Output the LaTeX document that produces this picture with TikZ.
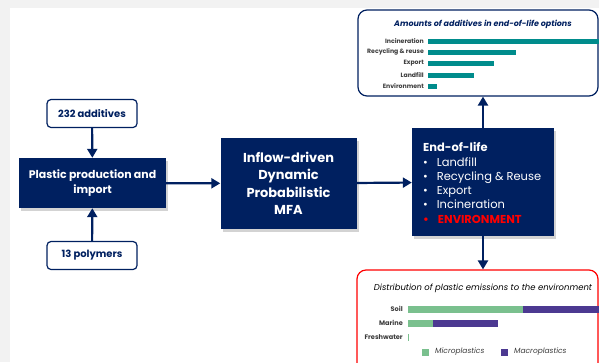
\documentclass[tikz,border=0pt]{standalone}
\usepackage{fontspec}
\setmainfont{Poppins}
\usetikzlibrary{arrows.meta,shadows}
\definecolor{navy}{RGB}{0,32,96}
\definecolor{barteal}{RGB}{0,140,140}
\definecolor{microgreen}{RGB}{122,192,142}
\definecolor{macropurple}{RGB}{76,57,145}
\definecolor{edgegray}{RGB}{242,242,242}
\definecolor{labelgray}{RGB}{60,60,60}
\definecolor{eolred}{RGB}{255,0,0}

\begin{document}
\begin{tikzpicture}[x=1bp, y=-1bp,
  darkbox/.style={fill=navy, text=white, font=\bfseries, align=center, inner sep=0,
    drop shadow={opacity=0.35, shadow xshift=2bp, shadow yshift=-3bp}},
  inbox/.style={draw=navy, line width=1.2bp, rounded corners=4bp, fill=white, text=navy,
    font=\bfseries\fontsize{10}{12}\selectfont, minimum width=90bp, minimum height=28bp, inner sep=0},
  flow/.style={navy, line width=2.2bp, -{Triangle[width=10bp,length=9bp]}},
  panel/.style={line width=1.2bp, rounded corners=9bp, fill=white, inner sep=0},
  barlabel/.style={anchor=east, font=\bfseries\fontsize{6.2}{7}\selectfont, text=labelgray, inner sep=1bp},
]
\clip (0,0) rectangle (599,362);
\fill[edgegray] (0,0) rectangle (599,8);
\fill[edgegray] (0,0) rectangle (10,362);

% left column
\node[inbox] (add) at (92,113.5) {232 additives};
\node[inbox] (poly) at (92,255.5) {13 polymers};
\node[darkbox, minimum width=147bp, minimum height=50bp, font=\bfseries\fontsize{11}{15}\selectfont] (prod) at (92.5,183) {Plastic production and\\import};

% model
\node[darkbox, minimum width=136bp, minimum height=91bp, font=\bfseries\fontsize{13}{17.5}\selectfont] (mfa) at (288.5,183.5) {Inflow-driven\\Dynamic\\Probabilistic\\MFA};

% end of life
\node[darkbox, minimum width=142bp, minimum height=108bp] (eol) at (483,182) {};
\node[anchor=west, align=left, inner sep=0, text=white, font=\fontsize{11.5}{14.3}\selectfont] (eoltxt) at (423,183)
  {{\bfseries End-of-life}\\
   \textbullet\hspace{9bp}Landfill\\
   \textbullet\hspace{9bp}Recycling \& Reuse\\
   \textbullet\hspace{9bp}Export\\
   \textbullet\hspace{9bp}Incineration\\
   {\color{eolred}\bfseries\textbullet\hspace{9bp}ENVIRONMENT}};

% panels
\node[panel, draw=navy, minimum width=240bp, minimum height=86bp] (amt) at (478,53) {};
\node[panel, draw=eolred, minimum width=241bp, minimum height=104bp] (dist) at (477.5,322) {};

\draw[flow] (add) -- (prod);
\draw[flow] (poly) -- (prod);
\draw[flow] (prod) -- (mfa);
\draw[flow] (mfa) -- (eol);
\draw[flow] (eol.north) -- (eol.north |- amt.south);
\draw[flow] (eol.south) -- (eol.south |- dist.north);

% additives chart
\node[text=navy, font=\bfseries\itshape\fontsize{8}{9}\selectfont] (t1) at (483,24) {Amounts of additives in end-of-life options};
\node[barlabel] (r1) at (425,41) {Incineration};
\node[barlabel] (r2) at (425,52) {Recycling \& reuse};
\node[barlabel] (r3) at (425,63.5) {Export};
\node[barlabel] (r4) at (425,75) {Landfill};
\node[barlabel] (r5) at (425,86) {Environment};
\fill[barteal] (428,38.5) rectangle (600,43.5);
\fill[barteal] (428,49.5) rectangle (516,54.5);
\fill[barteal] (428,61) rectangle (494,66);
\fill[barteal] (428,72.5) rectangle (474,77.5);
\fill[barteal] (428,83.5) rectangle (437,88.5);

% emissions chart
\node[text=black, font=\itshape\fontsize{8.5}{9}\selectfont] (t2) at (483,288) {Distribution of plastic emissions to the environment};
\node[barlabel, font=\bfseries\fontsize{6.6}{7}\selectfont] (e1) at (404,309) {Soil};
\node[barlabel, font=\bfseries\fontsize{6.6}{7}\selectfont] (e2) at (404,323) {Marine};
\node[barlabel, font=\bfseries\fontsize{6.6}{7}\selectfont] (e3) at (404,337) {Freshwater};
\fill[microgreen] (408,305.5) rectangle (523,312.5);
\fill[macropurple] (523,305.5) rectangle (600,312.5);
\fill[microgreen] (408,319.5) rectangle (433,326.5);
\fill[macropurple] (433,319.5) rectangle (498,326.5);
\fill[microgreen] (408,333.5) rectangle (409.2,340.5);
\fill[microgreen] (421.5,348.5) rectangle (428.5,355.5);
\fill[macropurple] (500.5,348.5) rectangle (507.5,355.5);
\node[anchor=west, inner sep=0, text=labelgray, font=\itshape\fontsize{7.5}{8}\selectfont] (g1) at (435,352) {Microplastics};
\node[anchor=west, inner sep=0, text=labelgray, font=\itshape\fontsize{7.5}{8}\selectfont] (g2) at (514,352) {Macroplastics};
\end{tikzpicture}
\end{document}
